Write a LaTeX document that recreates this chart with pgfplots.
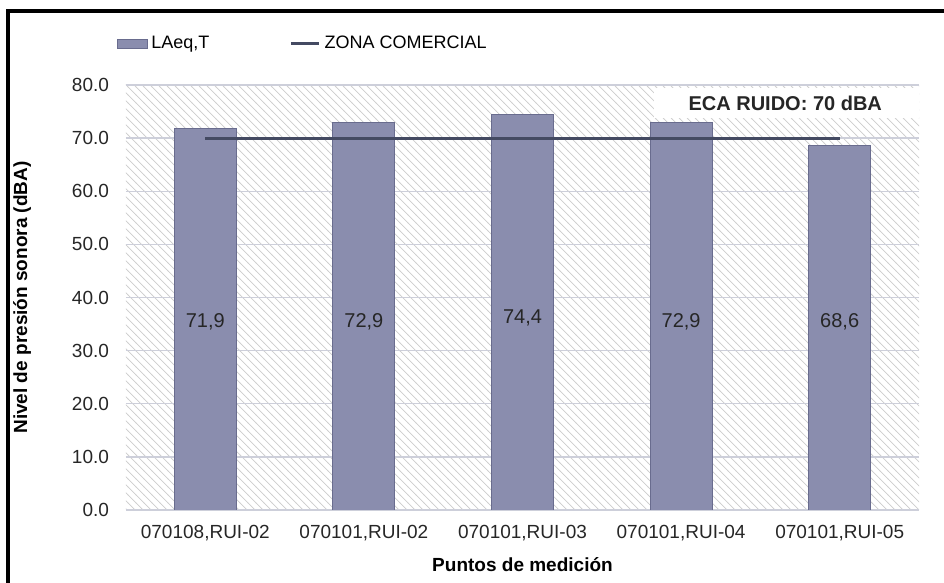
\documentclass[border=0pt]{standalone}
\usepackage{pgfplots}
\pgfplotsset{compat=1.18}
\usetikzlibrary{patterns}
\usepackage{fontspec}
\setmainfont{Liberation Sans}
\definecolor{barc}{RGB}{138,141,174}
\definecolor{baredge}{RGB}{105,108,142}
\definecolor{linec}{RGB}{68,74,98}
\definecolor{gridc}{RGB}{205,207,218}
\pgfdeclarepatternformonly{mynwlines}{\pgfqpoint{-1pt}{-1pt}}{\pgfqpoint{5pt}{5pt}}{\pgfqpoint{4pt}{4pt}}{%
  \pgfsetlinewidth{0.35pt}%
  \pgfpathmoveto{\pgfqpoint{-0.1pt}{4.1pt}}%
  \pgfpathlineto{\pgfqpoint{4.1pt}{-0.1pt}}%
  \pgfusepath{stroke}}
\begin{document}
\begin{tikzpicture}[x=1pt,y=1pt]
\useasboundingbox (0,0) rectangle (472,291.5);
\draw[line width=1.6pt] (4,-5) rectangle (480,286);
\begin{axis}[
  at={(63pt,36.5pt)}, anchor=south west,
  scale only axis, width=396.5pt, height=212.5pt,
  xmin=-0.5, xmax=4.5, ymin=0, ymax=80,
  xtick={0,1,2,3,4},
  xticklabels={070108{,}RUI-02,070101{,}RUI-02,070101{,}RUI-03,070101{,}RUI-04,070101{,}RUI-05},
  ytick={0,10,...,80},
  ymajorgrids, grid style={gridc, line width=0.7pt},
  major tick length=0pt,
  axis line style={draw=none},
  axis background/.style={pattern=mynwlines, pattern color=gray!40},
  /pgf/number format/.cd, fixed, fixed zerofill, precision=1, assume math mode=true,
  /pgfplots/.cd,
  tick label style={font=\fontsize{9.5}{11}\selectfont, text=black!85},
  yticklabel style={xshift=-5pt},
  xticklabel style={yshift=-4pt},
  ylabel={\bfseries Nivel de presión sonora (dBA)},
  ylabel style={at={(axis description cs:-0.131,0.5)}, anchor=center, font=\fontsize{9.5}{11}\selectfont},
  xlabel={\bfseries Puntos de medición},
  xlabel style={at={(axis description cs:0.5,-0.129)}, anchor=center, font=\fontsize{9.5}{11}\selectfont},
  legend columns=2,
  legend style={draw=none, fill=none, at={(axis description cs:-0.02,1.097)}, anchor=west,
    font=\fontsize{9}{11}\selectfont, /tikz/every even column/.append style={column sep=38pt}},
  legend cell align=left,
]
\addplot[ybar, bar width=31pt, bar shift=0pt, fill=barc, draw=baredge, line width=0.4pt,
  legend image code/.code={\fill[barc,draw=baredge] (0pt,-2.2pt) rectangle (15pt,2.2pt);}]
  coordinates {(0,71.9) (1,72.9) (2,74.4) (3,72.9) (4,68.6)};
\addlegendentry{LAeq,T}
\addplot[linec, line width=1.6pt, mark=none,
  legend image code/.code={\draw[linec,line width=1.6pt] (0pt,0pt) -- (14pt,0pt);}]
  coordinates {(0,70) (4,70)};
\addlegendentry{ZONA COMERCIAL}
\addplot[draw=none, mark=none, nodes near coords, point meta=explicit symbolic,
  nodes near coords style={anchor=center, font=\fontsize{10}{12}\selectfont, text=black!85}, forget plot]
  table[meta=lab] {
x y lab
0 35.5 71,9
1 35.5 72,9
2 36.2 74,4
3 35.5 72,9
4 35.5 68,6
};
\fill[white] (axis cs:4.5,79.4) rectangle ([xshift=-132.5pt]axis cs:4.5,73.8);
\node[anchor=east, font=\bfseries\fontsize{10}{12}\selectfont, text=black!85] at ([xshift=-15pt]axis cs:4.5,76.6) {ECA RUIDO: 70 dBA};
\end{axis}
\end{tikzpicture}
\end{document}
